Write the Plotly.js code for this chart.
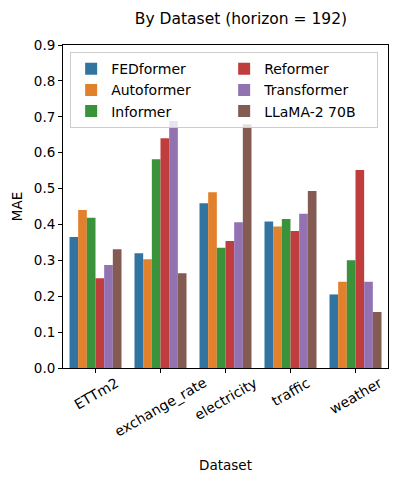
<!DOCTYPE html>
<html>
<head>
<meta charset="utf-8">
<script src="https://cdn.plot.ly/plotly-3.0.1.min.js"></script>
<style>
  body { margin: 0; background: #fff; }
  #chart { width: 399px; height: 484px; }
</style>
</head>
<body>
<div id="chart"></div>
<script>
// Datasets on the x axis
const datasets = ['ETTm2', 'exchange_rate', 'electricity', 'traffic', 'weather'];

// MAE per model
const fedformer   = [0.365, 0.320, 0.459, 0.408, 0.205];
const autoformer  = [0.440, 0.303, 0.490, 0.394, 0.240];
const informer    = [0.419, 0.582, 0.335, 0.415, 0.300];
const reformer    = [0.250, 0.640, 0.354, 0.382, 0.552];
const transformer = [0.287, 0.688, 0.406, 0.430, 0.240];
const llama70b    = [0.331, 0.264, 0.679, 0.493, 0.156];

const models = ['FEDformer', 'Autoformer', 'Informer', 'Reformer', 'Transformer', 'LLaMA-2 70B'];
const series = [fedformer, autoformer, informer, reformer, transformer, llama70b];
const colors = ['#3274a1', '#e1812c', '#3a923a', '#c03d3e', '#9372b2', '#845b53'];
// legend goes row by row, so rank entries to get two columns like the original
const ranks = [1, 3, 5, 2, 4, 6];

const traces = models.map(function(name, i) {
  return {
    type: 'bar',
    name: name,
    x: datasets,
    y: series[i],
    marker: { color: colors[i], line: { width: 0 } },
    legendrank: ranks[i]
  };
});

// rotated tick labels, centred under each group like matplotlib's ha='center'
const tickLabels = datasets.map(function(d) {
  return {
    text: d,
    x: d,
    xref: 'x',
    y: -0.012,
    yref: 'paper',
    xanchor: 'center',
    yanchor: 'top',
    textangle: -30,
    showarrow: false,
    font: { size: 14, color: '#000' }
  };
});

const layout = {
  width: 399,
  height: 484,
  margin: { l: 63, r: 11, t: 45, b: 116 },
  paper_bgcolor: '#fff',
  plot_bgcolor: '#fff',
  font: { family: 'DejaVu Sans, sans-serif', size: 13.5, color: '#000' },
  title: {
    text: 'By Dataset (horizon = 192)',
    font: { size: 15.5 },
    x: 0.604,
    xanchor: 'center',
    y: 0.962,
    yanchor: 'middle'
  },
  barmode: 'group',
  bargap: 0.2,
  bargroupgap: 0,
  xaxis: {
    showticklabels: false,
    ticks: 'outside',
    ticklen: 4,
    tickcolor: '#000',
    showline: true,
    linecolor: '#000',
    linewidth: 1,
    mirror: true,
    showgrid: false,
    title: { text: 'Dataset', font: { size: 13.5 }, standoff: 88 }
  },
  yaxis: {
    range: [0, 0.9],
    dtick: 0.1,
    tickformat: '.1f',
    ticks: 'outside',
    ticklen: 4,
    tickcolor: '#000',
    showline: true,
    linecolor: '#000',
    linewidth: 1,
    mirror: true,
    showgrid: false,
    zeroline: false,
    title: { text: 'MAE', font: { size: 13.5 }, standoff: 8 }
  },
  legend: {
    orientation: 'h',
    x: 0.022,
    y: 0.978,
    xanchor: 'left',
    yanchor: 'top',
    entrywidth: 108,
    bgcolor: 'rgba(255,255,255,0.8)',
    bordercolor: '#cccccc',
    borderwidth: 1,
    font: { size: 14 },
    traceorder: 'normal'
  },
  annotations: tickLabels
};

Plotly.newPlot('chart', traces, layout, { displayModeBar: false, staticPlot: true });
</script>
</body>
</html>
